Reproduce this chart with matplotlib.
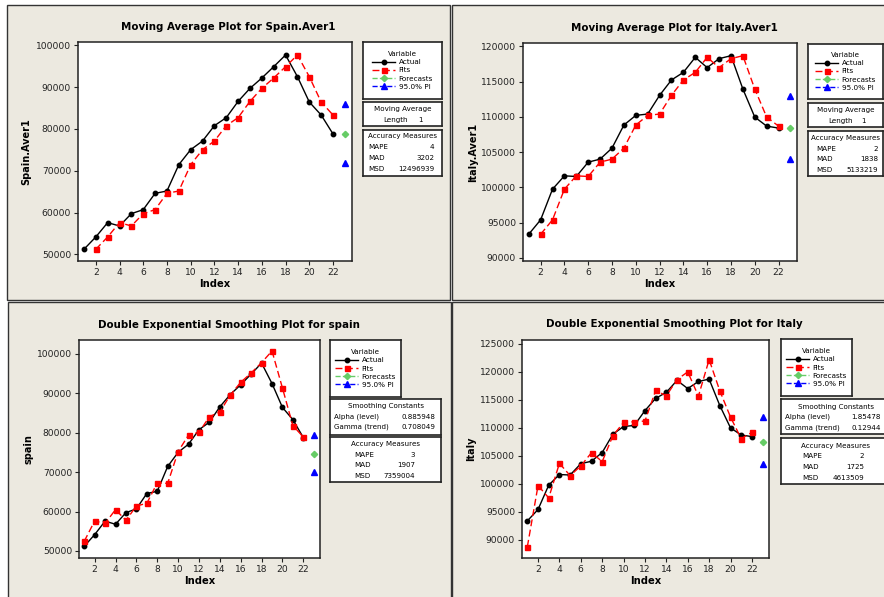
import matplotlib
matplotlib.use("Agg")
import matplotlib.pyplot as plt
from matplotlib.patches import Rectangle

W, H = 884, 597

# data
index = list(range(1, 23))
fit_index_ma = list(range(2, 23))
forecast_index = [23]

spain_actual = [51200, 54150, 57580, 56780, 59730, 60690, 64590, 65150, 71450, 75040, 77110,
                80780, 82700, 86600, 89710, 92190, 94900, 97690, 92500, 86440, 83330, 78790]
italy_actual = [93360, 95400, 99750, 101640, 101550, 103580, 104010, 105570, 108840, 110210, 110400,
                113050, 115230, 116310, 118440, 116980, 118250, 118670, 113950, 109970, 108690, 108410]

spain_ma_fits = [51200, 54150, 57580, 56780, 59730, 60690, 64590, 65150, 71450, 75040, 77110,
                 80780, 82700, 86600, 89710, 92190, 94900, 97690, 92500, 86440, 83330]
spain_ma_forecast = [78790]
spain_ma_upper = [85890]
spain_ma_lower = [71930]

italy_ma_fits = [93360, 95400, 99750, 101640, 101550, 103580, 104010, 105570, 108840, 110210, 110400,
                 113050, 115230, 116310, 118440, 116980, 118250, 118670, 113950, 109970, 108690]
italy_ma_forecast = [108410]
italy_ma_upper = [112950]
italy_ma_lower = [104060]

spain_des_fits = [52450, 57610, 57020, 60490, 57780, 61420, 62100, 67260, 67170, 75210, 79440,
                  80120, 84090, 85280, 89590, 92810, 95180, 97800, 100760, 91370, 81810, 78930]
spain_des_forecast = [74530]
spain_des_upper = [79360]
spain_des_lower = [69970]

italy_des_fits = [88750, 99670, 97470, 103640, 101450, 103170, 105540, 103940, 108570, 110940, 111060,
                  111180, 116640, 115690, 118590, 119960, 115630, 122150, 116580, 111890, 108040, 109170]
italy_des_forecast = [107500]
italy_des_upper = [111890]
italy_des_lower = [103470]

spain_ticks = [50000, 60000, 70000, 80000, 90000, 100000]
italy_ma_ticks = [90000, 95000, 100000, 105000, 110000, 115000, 120000]
italy_des_ticks = [90000, 95000, 100000, 105000, 110000, 115000, 120000, 125000]
x_ticks = [2, 4, 6, 8, 10, 12, 14, 16, 18, 20, 22]

spain_ma_acc = [("MAPE", "4"), ("MAD", "3202"), ("MSD", "12496939")]
italy_ma_acc = [("MAPE", "2"), ("MAD", "1838"), ("MSD", "5133219")]
spain_des_acc = [("MAPE", "3"), ("MAD", "1907"), ("MSD", "7359004")]
italy_des_acc = [("MAPE", "2"), ("MAD", "1725"), ("MSD", "4613509")]
spain_des_const = [("Alpha (level)", "0.885948"), ("Gamma (trend)", "0.708049")]
italy_des_const = [("Alpha (level)", "1.85478"), ("Gamma (trend)", "0.12944")]

PANEL = "#ece9e0"
FONT = "DejaVu Sans"
plt.rcParams["font.family"] = FONT


def rect(x0, y0, x1, y1):
    # pixel box -> figure fraction [left, bottom, width, height]
    return [x0 / W, 1 - y1 / H, (x1 - x0) / W, (y1 - y0) / H]


def box_axes(fig, x0, y0, x1, y1):
    bx = fig.add_axes(rect(x0, y0, x1, y1))
    bx.set_xlim(0, 1)
    bx.set_ylim(0, 1)
    bx.set_xticks([])
    bx.set_yticks([])
    bx.set_facecolor("white")
    for s in bx.spines.values():
        s.set_linewidth(1.2)
        s.set_color("#222222")
    return bx


def table_box(fig, x0, y0, x1, y1, header, rows, lx, rx, ys):
    bx = box_axes(fig, x0, y0, x1, y1)
    h = y1 - y0
    w = x1 - x0
    bx.text(0.5, 1 - (ys[0] - y0) / h, header, ha="center", va="center", fontsize=5.1)
    for (lab, val), yy in zip(rows, ys[1:]):
        fy = 1 - (yy - y0) / h
        bx.text((lx - x0) / w, fy, lab, ha="left", va="center", fontsize=5.1)
        bx.text((rx - x0) / w, fy, val, ha="right", va="center", fontsize=5.1)
    return bx


def panel(fig, ax_box, title, title_x, title_y, ylabel, ylabel_x, xlim, ylim, yticks,
          actual, fit_x, fits, fc, upper, lower, var_box):
    ax = fig.add_axes(rect(*ax_box))
    la, = ax.plot(index, actual, color="black", lw=1, marker="o", ms=3.2, label="Actual")
    lf, = ax.plot(fit_x, fits, color="#ff0000", lw=1, ls=(0, (5, 2.5)), marker="s", ms=3.6, label="Fits")
    lc, = ax.plot(forecast_index, fc, color="#66cc66", lw=1, ls="--", marker="D", ms=3.2, label="Forecasts")
    lp, = ax.plot(forecast_index, upper, color="#0000ff", lw=1, ls="--", marker="^", ms=4.2, label="95.0% PI")
    ax.plot(forecast_index, lower, color="#0000ff", lw=1, ls="--", marker="^", ms=4.2)
    ax.set_xlim(*xlim)
    ax.set_ylim(*ylim)
    ax.set_xticks(x_ticks)
    ax.set_yticks(yticks)
    ax.tick_params(labelsize=6.6, length=3, width=0.8, colors="#222222", pad=2)
    for s in ax.spines.values():
        s.set_linewidth(1.1)
        s.set_color("#222222")
    ax.set_xlabel("Index", fontsize=7.2, fontweight="bold", labelpad=1.5)
    fig.text(title_x / W, 1 - title_y / H, title,
             ha="center", va="center", fontsize=7.4, fontweight="bold")
    fig.text(ylabel_x / W, 1 - (ax_box[1] + ax_box[3]) / 2 / H, ylabel, rotation=90,
             ha="center", va="center", fontsize=7.0, fontweight="bold")
    bx = box_axes(fig, *var_box)
    bx.legend([la, lf, lc, lp], ["Actual", "Fits", "Forecasts", "95.0% PI"],
              loc="center", frameon=False, title="Variable", fontsize=5.2,
              title_fontsize=5.1, handlelength=3.2, handletextpad=0.5,
              labelspacing=0.3, borderpad=0.2, borderaxespad=0)
    return ax


fig = plt.figure(figsize=(W / 100, H / 100), dpi=100, facecolor="white")

# panel backgrounds, kept behind the axes
for x0, y0, x1, y1 in [(7, 5, 450, 300), (452, 5, 890, 300), (8, 302, 451, 605), (452, 302, 890, 605)]:
    fig.add_artist(Rectangle((x0 / W, 1 - y1 / H), (x1 - x0) / W, (y1 - y0) / H,
                             transform=fig.transFigure, facecolor=PANEL,
                             edgecolor="#333333", lw=1.0, zorder=-5))

# top left: moving average, Spain
panel(fig, (78, 42, 352, 261), "Moving Average Plot for Spain.Aver1", 228, 27, "Spain.Aver1", 26,
      (0.5, 23.6), (48400, 100800), spain_ticks,
      spain_actual, fit_index_ma, spain_ma_fits, spain_ma_forecast, spain_ma_upper, spain_ma_lower,
      (363, 42, 442, 99))
table_box(fig, 363, 102, 442, 126, "Moving Average", [("Length", "1")], 383, 423, [109, 120])
table_box(fig, 363, 130, 442, 176, "Accuracy Measures", spain_ma_acc, 368, 434, [136, 147, 158, 169])

# top right: moving average, Italy
panel(fig, (523, 43, 797, 261), "Moving Average Plot for Italy.Aver1", 674, 28, "Italy.Aver1", 473,
      (0.52, 23.55), (89570, 120470), italy_ma_ticks,
      italy_actual, fit_index_ma, italy_ma_fits, italy_ma_forecast, italy_ma_upper, italy_ma_lower,
      (808, 44, 883, 99))
table_box(fig, 808, 103, 883, 127, "Moving Average", [("Length", "1")], 828, 866, [110, 121])
table_box(fig, 808, 131, 883, 176, "Accuracy Measures", italy_ma_acc, 816, 878, [138, 149, 159, 170])

# bottom left: double exponential smoothing, Spain
panel(fig, (79, 340, 320, 558), "Double Exponential Smoothing Plot for spain", 229, 325, "spain", 29,
      (0.5, 23.6), (48220, 103550), spain_ticks,
      spain_actual, index, spain_des_fits, spain_des_forecast, spain_des_upper, spain_des_lower,
      (330, 340, 401, 397))
table_box(fig, 330, 399, 441, 435, "Smoothing Constants", spain_des_const, 334, 435, [406, 417, 427])
table_box(fig, 330, 437, 441, 482, "Accuracy Measures", spain_des_acc, 354, 415, [444, 455, 465, 476])

# bottom right: double exponential smoothing, Italy
panel(fig, (522, 340, 769, 558), "Double Exponential Smoothing Plot for Italy", 674, 324, "Italy", 471,
      (0.5, 23.6), (86740, 125650), italy_des_ticks,
      italy_actual, index, italy_des_fits, italy_des_forecast, italy_des_upper, italy_des_lower,
      (781, 339, 852, 396))
table_box(fig, 781, 399, 890, 434, "Smoothing Constants", italy_des_const, 785, 881, [407, 417, 428])
table_box(fig, 781, 438, 890, 484, "Accuracy Measures", italy_des_acc, 802, 864, [446, 456, 467, 478])

fig.savefig("out.png", dpi=100, facecolor="white")
